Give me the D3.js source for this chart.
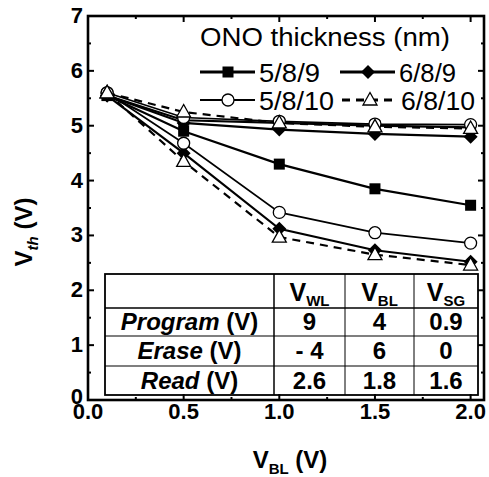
<!DOCTYPE html>
<html>
<head>
<meta charset="utf-8">
<script src="https://cdn.jsdelivr.net/npm/d3@7"></script>
<style>
  html, body { margin: 0; padding: 0; background: #fff; }
  svg { display: block; font-family: "Liberation Sans", Arial, Helvetica, sans-serif; }
</style>
</head>
<body>
<svg id="chart" width="489" height="477"></svg>
<script>
/* ---------- data ---------- */
const vbl = [0.1, 0.5, 1.0, 1.5, 2.0];

// each ONO stack has an upper (near 5 V) and a lower branch
const s589Hi  = [5.55, 5.10, 5.05, 5.00, 4.97];
const s589Lo  = [5.55, 4.90, 4.30, 3.85, 3.55];
const s689Hi  = [5.55, 5.05, 4.93, 4.85, 4.80];
const s689Lo  = [5.55, 4.50, 3.12, 2.73, 2.52];
const s5810Hi = [5.60, 5.15, 5.08, 5.03, 5.02];
const s5810Lo = [5.60, 4.68, 3.42, 3.05, 2.86];
const s6810Hi = [5.60, 5.25, 5.05, 4.98, 4.95];
const s6810Lo = [5.60, 4.35, 2.97, 2.65, 2.46];

const seriesNames = ["5/8/9", "6/8/9", "5/8/10", "6/8/10"];
const xTicks = [0, 0.5, 1.0, 1.5, 2.0];
const yTicks = [0, 1, 2, 3, 4, 5, 6, 7];

const tableCols = ["WL", "BL", "SG"];
const tableRows = ["Program", "Erase", "Read"];
const tableVals = [
  ["9", "4", "0.9"],
  ["- 4", "6", "0"],
  ["2.6", "1.8", "1.6"]
];

/* ---------- layout ---------- */
const svg = d3.select("#chart");
const M = { left: 88, right: 484, top: 16, bottom: 400 };

const x = d3.scaleLinear().domain([0, 2.07]).range([M.left, M.right]);
const y = d3.scaleLinear().domain([0, 7]).range([M.bottom, M.top]);

/* ---------- table (drawn under the curves) ---------- */
const tbl = svg.append("g");
const tx = [105, 274, 345, 414, 478];
const ty = [274, 308, 336, 366, 395];

tbl.append("rect")
  .attr("x", tx[0]).attr("y", ty[0])
  .attr("width", tx[4] - tx[0]).attr("height", ty[4] - ty[0])
  .attr("fill", "#fff").attr("stroke", "#000").attr("stroke-width", 1.8);

ty.slice(1, 4).forEach((v, i) => {
  tbl.append("line")
    .attr("x1", tx[0]).attr("x2", tx[4]).attr("y1", v).attr("y2", v)
    .attr("stroke", "#000").attr("stroke-width", i === 0 ? 1.6 : 1.1);
});
tx.slice(1, 4).forEach((v, i) => {
  tbl.append("line")
    .attr("x1", v).attr("x2", v).attr("y1", ty[0]).attr("y2", ty[4])
    .attr("stroke", "#000").attr("stroke-width", i === 0 ? 1.5 : 1);
});

// header
tableCols.forEach((c, i) => {
  const t = tbl.append("text")
    .attr("x", (tx[i + 1] + tx[i + 2]) / 2)
    .attr("y", 301)
    .attr("text-anchor", "middle")
    .attr("font-weight", "bold")
    .attr("font-size", 25);
  t.append("tspan").text("V");
  t.append("tspan").text(c).attr("font-size", 15).attr("dy", 5);
});

// rows
tableRows.forEach((r, j) => {
  const cy = (ty[j + 1] + ty[j + 2]) / 2 + 8;
  const t = tbl.append("text")
    .attr("x", (tx[0] + tx[1]) / 2).attr("y", cy)
    .attr("text-anchor", "middle")
    .attr("font-weight", "bold")
    .attr("font-size", 24);
  t.append("tspan").text(r).attr("font-style", "italic");
  t.append("tspan").text(" (V)");

  tableVals[j].forEach((v, i) => {
    tbl.append("text")
      .attr("x", (tx[i + 1] + tx[i + 2]) / 2).attr("y", cy)
      .attr("text-anchor", "middle")
      .attr("font-weight", "bold")
      .attr("font-size", 24)
      .text(v);
  });
});

/* ---------- curves ---------- */
const line = d3.line().x((d) => x(d[0])).y((d) => y(d[1]));
const pts = (arr) => vbl.map((v, i) => [v, arr[i]]);

const styles = {
  square:   { dash: null,  width: 2.2 },
  diamond:  { dash: null,  width: 2.2 },
  circle:   { dash: null,  width: 1.7 },
  triangle: { dash: "8,6", width: 2.2 }
};

const curves = [
  { data: s589Hi, m: "square" },
  { data: s589Lo, m: "square" },
  { data: s689Hi, m: "diamond" },
  { data: s689Lo, m: "diamond" },
  { data: s5810Hi, m: "circle" },
  { data: s5810Lo, m: "circle" },
  { data: s6810Hi, m: "triangle" },
  { data: s6810Lo, m: "triangle" }
];

const plot = svg.append("g");

function drawMarker(g, kind, cx, cy) {
  if (kind === "square") {
    g.append("rect").attr("x", cx - 5.5).attr("y", cy - 5.5)
      .attr("width", 11).attr("height", 11).attr("fill", "#000");
  } else if (kind === "diamond") {
    g.append("path")
      .attr("d", `M${cx},${cy - 7}L${cx + 7},${cy}L${cx},${cy + 7}L${cx - 7},${cy}Z`)
      .attr("fill", "#000");
  } else if (kind === "circle") {
    g.append("circle").attr("cx", cx).attr("cy", cy).attr("r", 6)
      .attr("fill", "#fff").attr("stroke", "#000").attr("stroke-width", 1.3);
  } else {
    g.append("path")
      .attr("d", `M${cx},${cy - 7.5}L${cx + 7},${cy + 5}L${cx - 7},${cy + 5}Z`)
      .attr("fill", "#fff").attr("stroke", "#000").attr("stroke-width", 1.3);
  }
}

curves.forEach((c) => {
  plot.append("path")
    .datum(pts(c.data))
    .attr("d", line)
    .attr("fill", "none")
    .attr("stroke", "#000")
    .attr("stroke-width", styles[c.m].width)
    .attr("stroke-dasharray", styles[c.m].dash);
});
curves.forEach((c) => {
  pts(c.data).forEach((p) => drawMarker(plot, c.m, x(p[0]), y(p[1])));
});

/* ---------- frame + ticks ---------- */
const ax = svg.append("g");
ax.append("rect")
  .attr("x", M.left).attr("y", M.top)
  .attr("width", M.right - M.left).attr("height", M.bottom - M.top)
  .attr("fill", "none").attr("stroke", "#000").attr("stroke-width", 2.6);

const xMinor = d3.range(0.25, 2.07, 0.5);
const yMinor = d3.range(0.5, 7, 1);

xTicks.forEach((v) => {
  ax.append("line").attr("x1", x(v)).attr("x2", x(v)).attr("y1", M.bottom).attr("y2", M.bottom - 6)
    .attr("stroke", "#000").attr("stroke-width", 2);
  ax.append("line").attr("x1", x(v)).attr("x2", x(v)).attr("y1", M.top).attr("y2", M.top + 6)
    .attr("stroke", "#000").attr("stroke-width", 2);
  ax.append("text").attr("x", x(v)).attr("y", 419)
    .attr("text-anchor", "middle").attr("font-weight", "bold").attr("font-size", 22)
    .text(d3.format(".1f")(v));
});
xMinor.forEach((v) => {
  ax.append("line").attr("x1", x(v)).attr("x2", x(v)).attr("y1", M.bottom).attr("y2", M.bottom - 3)
    .attr("stroke", "#000").attr("stroke-width", 2);
  ax.append("line").attr("x1", x(v)).attr("x2", x(v)).attr("y1", M.top).attr("y2", M.top + 3)
    .attr("stroke", "#000").attr("stroke-width", 2);
});
yTicks.forEach((v) => {
  ax.append("line").attr("x1", M.left).attr("x2", M.left + 6).attr("y1", y(v)).attr("y2", y(v))
    .attr("stroke", "#000").attr("stroke-width", 2);
  ax.append("line").attr("x1", M.right).attr("x2", M.right - 6).attr("y1", y(v)).attr("y2", y(v))
    .attr("stroke", "#000").attr("stroke-width", 2);
  ax.append("text").attr("x", 83).attr("y", y(v) + (v === 0 ? 4 : 7))
    .attr("text-anchor", "end").attr("font-weight", "bold").attr("font-size", 22)
    .text(v);
});
yMinor.forEach((v) => {
  ax.append("line").attr("x1", M.left).attr("x2", M.left + 3).attr("y1", y(v)).attr("y2", y(v))
    .attr("stroke", "#000").attr("stroke-width", 2);
  ax.append("line").attr("x1", M.right).attr("x2", M.right - 3).attr("y1", y(v)).attr("y2", y(v))
    .attr("stroke", "#000").attr("stroke-width", 2);
});

/* ---------- axis titles ---------- */
const xt = svg.append("text").attr("x", 290).attr("y", 468)
  .attr("text-anchor", "middle").attr("font-weight", "bold").attr("font-size", 24);
xt.append("tspan").text("V");
xt.append("tspan").text("BL").attr("font-size", 15).attr("dy", 6);
xt.append("tspan").text(" (V)").attr("dy", -6);

const yt = svg.append("text").attr("transform", "translate(32,232) rotate(-90)")
  .attr("text-anchor", "middle").attr("font-weight", "bold").attr("font-size", 24);
yt.append("tspan").text("V");
yt.append("tspan").text("th").attr("font-size", 15).attr("dy", 6).attr("font-style", "italic");
yt.append("tspan").text(" (V)").attr("dy", -6);

/* ---------- legend ---------- */
const lg = svg.append("g");
lg.append("text").attr("x", 200).attr("y", 46).attr("font-size", 25)
  .attr("textLength", 250).attr("lengthAdjust", "spacingAndGlyphs")
  .text("ONO thickness (nm)");

const legendItems = [
  { name: seriesNames[0], m: "square",   x0: 200, y0: 72,  w: 61 },
  { name: seriesNames[1], m: "diamond",  x0: 340, y0: 72,  w: 57 },
  { name: seriesNames[2], m: "circle",   x0: 200, y0: 100, w: 75 },
  { name: seriesNames[3], m: "triangle", x0: 342, y0: 100, w: 74 }
];
legendItems.forEach((d) => {
  lg.append("line").attr("x1", d.x0).attr("x2", d.x0 + 55).attr("y1", d.y0).attr("y2", d.y0)
    .attr("stroke", "#000").attr("stroke-width", d.m === "circle" ? 2 : 3)
    .attr("stroke-dasharray", styles[d.m].dash);
  drawMarker(lg, d.m, d.x0 + 28, d.y0);
  lg.append("text").attr("x", d.x0 + 59).attr("y", d.y0 + 10).attr("font-size", 26)
    .attr("textLength", d.w).attr("lengthAdjust", "spacingAndGlyphs")
    .text(d.name);
});
</script>
</body>
</html>
